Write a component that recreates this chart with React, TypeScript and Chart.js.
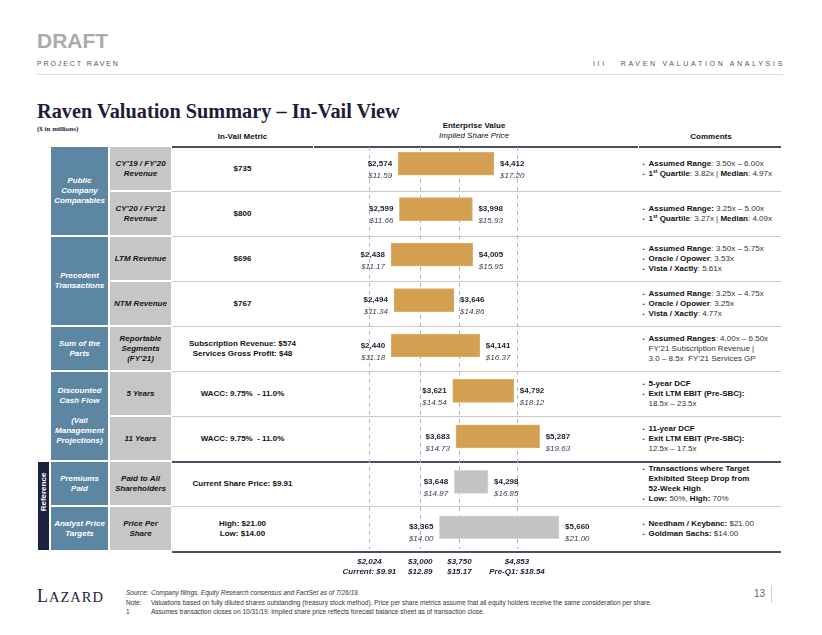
import React, { useEffect, useRef } from 'react';
import { Chart, registerables } from 'chart.js';

Chart.register(...registerables);

// ---------- Data ----------
const rowKeys = [
  'CY19/FY20 Revenue',
  'CY20/FY21 Revenue',
  'LTM Revenue',
  'NTM Revenue',
  'Reportable Segments',
  'DCF 5 Years',
  'DCF 11 Years',
  'Premiums Paid',
  'Analyst Price Targets',
];
const evLow = [2574, 2599, 2438, 2494, 2440, 3621, 3683, 3648, 3365];
const evHigh = [4412, 3998, 4005, 3646, 4141, 4792, 5287, 4298, 5660];
const priceLow = [11.59, 11.66, 11.17, 11.34, 11.18, 14.54, 14.73, 14.87, 14.0];
const priceHigh = [17.2, 15.93, 15.95, 14.86, 16.37, 18.12, 19.63, 16.85, 21.0];
const isReference = [false, false, false, false, false, false, false, true, true];
const refLineValues = [2024, 3000, 3750, 4853];
const refLineLabels = ['Current: $9.91', '$12.89', '$15.17', 'Pre-Q1: $18.54'];

const metricTexts = [
  ['$735'],
  ['$800'],
  ['$696'],
  ['$767'],
  ['Subscription Revenue: $574', 'Services Gross Profit: $48'],
  ['WACC: 9.75%  - 11.0%'],
  ['WACC: 9.75%  - 11.0%'],
  ['Current Share Price: $9.91'],
  ['High: $21.00', 'Low: $14.00'],
];
const subCategories = [
  ['CY\u201919 / FY\u201920', 'Revenue'],
  ['CY\u201920 / FY\u201921', 'Revenue'],
  ['LTM Revenue'],
  ['NTM Revenue'],
  ['Reportable', 'Segments', '(FY\u201921)'],
  ['5 Years'],
  ['11 Years'],
  ['Paid to All', 'Shareholders'],
  ['Price Per', 'Share'],
];
const categories = [
  { start: 0, end: 1, lines: ['Public', 'Company', 'Comparables'] },
  { start: 2, end: 3, lines: ['Precedent', 'Transactions'] },
  { start: 4, end: 4, lines: ['Sum of the', 'Parts'] },
  { start: 5, end: 6, lines: ['Discounted', 'Cash Flow', '\u00a0', '(Vail', 'Management', 'Projections)'] },
  { start: 7, end: 7, lines: ['Premiums', 'Paid'] },
  { start: 8, end: 8, lines: ['Analyst Price', 'Targets'] },
];

// ---------- Styles ----------
const SANS = "'Liberation Sans', Arial, sans-serif";
const SERIF = "'Liberation Serif', 'Times New Roman', serif";
const GOLD = '#D3A052';
const GOLD_EDGE = '#DDB16A';
const GREY = '#C3C3C3';
const GREY_EDGE = '#D8D8D8';
const BLUE = '#5D86A3';
const CELL_GREY = '#C6C6C6';
const NAVY = '#1C2340';

const ROW0 = 146;
const ROW_H = 45;
const rowTop = (i: number) => ROW0 + ROW_H * i;

const fmtEV = (v: number) => '$' + v.toLocaleString('en-US');
const fmtP = (v: number) => '$' + v.toFixed(2);

const refLinesPlugin = {
  id: 'refLines',
  beforeDatasetsDraw(chart: any) {
    const { ctx, chartArea } = chart;
    const xs = chart.scales.x;
    ctx.save();
    ctx.strokeStyle = '#A9B4D0';
    ctx.lineWidth = 1;
    ctx.setLineDash([4, 4]);
    refLineValues.forEach((v) => {
      const x = Math.round(xs.getPixelForValue(v)) + 0.5;
      ctx.beginPath();
      ctx.moveTo(x, chartArea.top + 6);
      ctx.lineTo(x, chartArea.bottom - 1);
      ctx.stroke();
    });
    ctx.restore();
  },
  afterDatasetsDraw(chart: any) {
    const { ctx, chartArea } = chart;
    const xs = chart.scales.x;
    ctx.save();
    ctx.textAlign = 'center';
    ctx.textBaseline = 'middle';
    ctx.fillStyle = '#1E1E35';
    ctx.font = `italic bold 8px ${SANS}`;
    refLineValues.forEach((v, i) => {
      const x = xs.getPixelForValue(v);
      ctx.fillText(fmtEV(v), x, chartArea.bottom + 12);
      ctx.fillText(refLineLabels[i], x, chartArea.bottom + 22);
    });
    ctx.restore();
  },
};

const barLabelsPlugin = {
  id: 'barLabels',
  afterDatasetsDraw(chart: any) {
    const { ctx } = chart;
    const xs = chart.scales.x;
    const ys = chart.scales.y;
    ctx.save();
    ctx.textBaseline = 'middle';
    evLow.forEach((lo, i) => {
      const y = ys.getPixelForValue(i);
      const x1 = xs.getPixelForValue(lo);
      const x2 = xs.getPixelForValue(evHigh[i]);
      ctx.textAlign = 'right';
      ctx.font = `bold 8px ${SANS}`;
      ctx.fillStyle = '#1E1E30';
      ctx.fillText(fmtEV(lo), x1 - 6, y);
      ctx.font = `italic 8px ${SANS}`;
      ctx.fillStyle = '#3C3C4C';
      ctx.fillText(fmtP(priceLow[i]), x1 - 6, y + 12);
      ctx.textAlign = 'left';
      ctx.font = `bold 8px ${SANS}`;
      ctx.fillStyle = '#1E1E30';
      ctx.fillText(fmtEV(evHigh[i]), x2 + 6, y);
      ctx.font = `italic 8px ${SANS}`;
      ctx.fillStyle = '#3C3C4C';
      ctx.fillText(fmtP(priceHigh[i]), x2 + 6, y + 12);
    });
    ctx.restore();
  },
};

// ---------- Small components ----------
const abs = (left: number, top: number, width: number, height: number, extra: any = {}) => ({
  position: 'absolute' as const,
  left,
  top,
  width,
  height,
  ...extra,
});

const Bul = ({ children }: any) => (
  <div style={{ display: 'flex' }}>
    <span style={{ width: 6, flex: 'none', fontSize: 6 }}>{'\u2022'}</span>
    <span>{children}</span>
  </div>
);
const Cont = ({ children }: any) => <div style={{ paddingLeft: 6 }}>{children}</div>;
const B = ({ children }: any) => <b style={{ color: '#111' }}>{children}</b>;
const St = () => <span style={{ fontSize: 5, position: 'relative', top: -2.5 }}>st</span>;

const comments = [
  <>
    <Bul><B>Assumed Range</B>: 3.50x – 6.00x</Bul>
    <Bul><B>1<St /> Quartile</B>: 3.82x | <B>Median</B>: 4.97x</Bul>
  </>,
  <>
    <Bul><B>Assumed Range:</B> 3.25x – 5.00x</Bul>
    <Bul><B>1<St /> Quartile</B>: 3.27x | <B>Median</B>: 4.09x</Bul>
  </>,
  <>
    <Bul><B>Assumed Range</B>: 3.50x – 5.75x</Bul>
    <Bul><B>Oracle / Opower</B>: 3.53x</Bul>
    <Bul><B>Vista / Xactly</B>: 5.61x</Bul>
  </>,
  <>
    <Bul><B>Assumed Range</B>: 3.25x – 4.75x</Bul>
    <Bul><B>Oracle / Opower</B>: 3.25x</Bul>
    <Bul><B>Vista / Xactly</B>: 4.77x</Bul>
  </>,
  <>
    <Bul><B>Assumed Ranges</B>: 4.00x – 6.50x</Bul>
    <Cont>FY’21 Subscription Revenue |</Cont>
    <Cont>3.0 – 8.5x&nbsp; FY’21 Services GP</Cont>
  </>,
  <>
    <Bul><B>5-year DCF</B></Bul>
    <Bul><B>Exit LTM EBIT (Pre-SBC):</B></Bul>
    <Cont>18.5x – 23.5x</Cont>
  </>,
  <>
    <Bul><B>11-year DCF</B></Bul>
    <Bul><B>Exit LTM EBIT (Pre-SBC):</B></Bul>
    <Cont>12.5x – 17.5x</Cont>
  </>,
  <>
    <Bul><B>Transactions where Target<br />Exhibited Steep Drop from<br />52-Week High</B></Bul>
    <Bul><B>Low:</B> 50%, <B>High:</B> 70%</Bul>
  </>,
  <>
    <Bul><B>Needham / Keybanc:</B> $21.00</Bul>
    <Bul><B>Goldman Sachs:</B> $14.00</Bul>
  </>,
];

export default function App() {
  const canvasRef = useRef<HTMLCanvasElement>(null);

  useEffect(() => {
    const canvas = canvasRef.current;
    if (!canvas) return;
    const chart = new Chart(canvas, {
      type: 'bar',
      data: {
        labels: rowKeys,
        datasets: [
          {
            data: evLow.map((lo, i) => [lo, evHigh[i]]) as any,
            backgroundColor: isReference.map((r) => (r ? GREY : GOLD)),
            borderColor: isReference.map((r) => (r ? GREY_EDGE : GOLD_EDGE)),
            borderWidth: 1,
            borderSkipped: false,
            barThickness: 23,
          },
        ],
      },
      options: {
        indexAxis: 'y',
        responsive: false,
        animation: false,
        devicePixelRatio: 1,
        layout: { padding: { left: 316, right: 193, top: 141, bottom: 85 } },
        scales: {
          x: { type: 'linear', min: 1000, max: 7000, display: false },
          y: { type: 'category', display: false, offset: true },
        },
        plugins: {
          legend: { display: false },
          tooltip: { enabled: false },
        },
      },
      plugins: [refLinesPlugin, barLabelsPlugin],
    } as any);
    return () => chart.destroy();
  }, []);

  const boundaries = Array.from({ length: 10 }, (_, i) => i);
  const darkSet = new Set([0, 7, 9]);

  return (
    <div
      style={{
        position: 'absolute',
        left: 0,
        top: 0,
        width: 822,
        height: 635,
        background: '#fff',
        overflow: 'hidden',
        fontFamily: SANS,
        color: '#222',
      }}
    >
      {/* Header */}
      <div style={abs(37, 30, 120, 21, { fontSize: 21, lineHeight: '21px', fontWeight: 'bold', color: '#ABABAB' })}>DRAFT</div>
      <div style={abs(37, 59, 200, 10, { fontSize: 7, lineHeight: '10px', letterSpacing: 1.9, color: '#555' })}>PROJECT RAVEN</div>
      <div style={abs(480, 59, 305, 10, { fontSize: 7, lineHeight: '10px', letterSpacing: 2.7, color: '#555', textAlign: 'right' })}>
        III&nbsp;&nbsp;&nbsp;RAVEN VALUATION ANALYSIS
      </div>
      <div style={abs(37, 74, 746, 1, { background: '#DCDCDC' })} />

      <div style={abs(37, 101, 500, 20, { fontFamily: SERIF, fontWeight: 'bold', fontSize: 20.3, lineHeight: '20px', color: '#1D1D3B', whiteSpace: 'nowrap' })}>
        Raven Valuation Summary – In-Vail View
      </div>
      <div style={abs(37, 125, 100, 9, { fontFamily: SERIF, fontWeight: 'bold', fontSize: 7, lineHeight: '9px', color: '#1D1D3B' })}>($ in millions)</div>

      <div style={abs(172, 132, 141, 10, { fontSize: 8, lineHeight: '10px', fontWeight: 'bold', textAlign: 'center', color: '#111' })}>In-Vail Metric</div>
      <div style={abs(374, 121, 200, 10, { fontSize: 8, lineHeight: '10px', fontWeight: 'bold', textAlign: 'center', color: '#111' })}>Enterprise Value</div>
      <div style={abs(374, 131, 200, 10, { fontSize: 8, lineHeight: '10px', fontStyle: 'italic', textAlign: 'center', color: '#111' })}>Implied Share Price</div>
      <div style={abs(640, 132, 142, 10, { fontSize: 8, lineHeight: '10px', fontWeight: 'bold', textAlign: 'center', color: '#111' })}>Comments</div>

      {/* Row lines */}
      {boundaries.map((i) =>
        darkSet.has(i) ? (
          i === 0 ? (
            <React.Fragment key={i}>
              <div style={abs(172, rowTop(i), 141, 2, { background: '#4A4E5E' })} />
              <div style={abs(314, rowTop(i), 324, 2, { background: '#4A4E5E' })} />
              <div style={abs(639, rowTop(i), 142, 2, { background: '#4A4E5E' })} />
            </React.Fragment>
          ) : (
            <div key={i} style={abs(172, rowTop(i), 609, 2, { background: '#4A4E5E' })} />
          )
        ) : (
          <div key={i} style={abs(172, rowTop(i), 609, 1, { background: '#CBCBCB' })} />
        )
      )}

      {/* Reference side bar */}
      <div style={abs(38, rowTop(7) + 1, 11, ROW_H * 2 - 2, { background: NAVY })} />
      <div
        style={{
          position: 'absolute',
          left: 43.5,
          top: 492,
          transform: 'translate(-50%, -50%) rotate(-90deg)',
          color: '#fff',
          fontWeight: 'bold',
          fontSize: 8,
          lineHeight: '10px',
          whiteSpace: 'nowrap',
        }}
      >
        Reference
      </div>

      {/* Category cells */}
      {categories.map((c, k) => (
        <div
          key={k}
          style={abs(51, rowTop(c.start) + 1, 57, ROW_H * (c.end - c.start + 1) - 2, {
            background: BLUE,
            color: '#fff',
            fontWeight: 'bold',
            fontStyle: 'italic',
            fontSize: 8,
            lineHeight: '10px',
            display: 'flex',
            flexDirection: 'column',
            alignItems: 'center',
            justifyContent: 'center',
            textAlign: 'center',
            whiteSpace: 'nowrap',
          })}
        >
          {c.lines.map((l, j) => (
            <div key={j}>{l}</div>
          ))}
        </div>
      ))}

      {/* Sub-category cells */}
      {subCategories.map((lines, i) => (
        <div
          key={i}
          style={abs(110, rowTop(i) + 1, 61, ROW_H - 2, {
            background: CELL_GREY,
            color: '#151515',
            fontWeight: 'bold',
            fontStyle: 'italic',
            fontSize: 8,
            lineHeight: '10px',
            display: 'flex',
            flexDirection: 'column',
            alignItems: 'center',
            justifyContent: 'center',
            textAlign: 'center',
            whiteSpace: 'nowrap',
          })}
        >
          {lines.map((l, j) => (
            <div key={j}>{l}</div>
          ))}
        </div>
      ))}

      {/* Metric texts */}
      {metricTexts.map((lines, i) => (
        <div
          key={i}
          style={abs(172, rowTop(i), 141, ROW_H, {
            color: '#111',
            fontWeight: 'bold',
            fontSize: 8,
            lineHeight: '10px',
            display: 'flex',
            flexDirection: 'column',
            alignItems: 'center',
            justifyContent: 'center',
            textAlign: 'center',
            whiteSpace: 'pre',
          })}
        >
          {lines.map((l, j) => (
            <div key={j}>{l}</div>
          ))}
        </div>
      ))}

      {/* Comments */}
      {comments.map((c, i) => (
        <div
          key={i}
          style={abs(642.5, rowTop(i), 140, ROW_H, {
            color: '#333',
            fontSize: 8,
            lineHeight: '10px',
            display: 'flex',
            flexDirection: 'column',
            justifyContent: 'center',
            whiteSpace: 'nowrap',
          })}
        >
          {c}
        </div>
      ))}

      {/* Footer */}
      <div style={abs(37, 586, 100, 20, { fontFamily: SERIF, color: '#1D1D3B', lineHeight: '20px', whiteSpace: 'nowrap', letterSpacing: 1 })}>
        <span style={{ fontSize: 18 }}>L</span>
        <span style={{ fontSize: 14.5 }}>AZARD</span>
      </div>
      <div style={abs(126, 588, 620, 30, { fontSize: 6.5, lineHeight: '9.5px', color: '#333', whiteSpace: 'nowrap' })}>
        <div style={{ display: 'flex' }}>
          <span style={{ width: 25, fontStyle: 'italic' }}>Source:</span>
          <span style={{ fontStyle: 'italic' }}>Company filings, Equity Research consensus and FactSet as of 7/26/19.</span>
        </div>
        <div style={{ display: 'flex' }}>
          <span style={{ width: 25 }}>Note:</span>
          <span>
            Valuations based on fully diluted shares outstanding (treasury stock method). Price per share metrics assume that all equity holders receive the same consideration per share.
          </span>
        </div>
        <div style={{ display: 'flex' }}>
          <span style={{ width: 25 }}>1</span>
          <span>Assumes transaction closes on 10/31/19. Implied share price reflects forecast balance sheet as of transaction close.</span>
        </div>
      </div>
      <div style={abs(740, 588, 25, 12, { fontSize: 10, lineHeight: '12px', color: '#666', textAlign: 'right' })}>13</div>
      <div style={abs(771, 585, 1, 18, { background: '#D0D0D0' })} />

      <canvas
        ref={canvasRef}
        width={822}
        height={635}
        style={{ position: 'absolute', left: 0, top: 0, width: 822, height: 635 }}
      />
    </div>
  );
}
